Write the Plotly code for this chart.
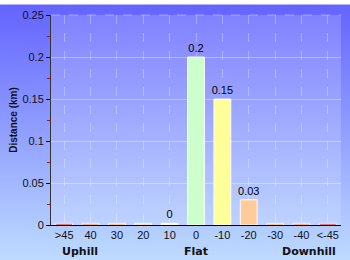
import plotly.graph_objects as go

categories = [">45", "40", "30", "20", "10", "0", "-10", "-20", "-30", "-40", "<-45"]
distance_km = [0.002, 0.002, 0.002, 0.002, 0.002, 0.2, 0.15, 0.03, 0.002, 0.002, 0.002]
bar_labels = ["", "", "", "", "0", "0.2", "0.15", "0.03", "", "", ""]
bar_colors = ["#e00000", "#ff6a1a", "#ff9a1a", "#ffc080", "#ffff99", "#ccffcc",
              "#ffff99", "#ffcc99", "#ff9a1a", "#ff6a1a", "#e00000"]
y_ticks = [0, 0.05, 0.1, 0.15, 0.2, 0.25]
y_tick_text = ["0", "0.05", "0.1", "0.15", "0.2", "0.25"]
section_labels = [("Uphill", 0.10), ("Flat", 0.5), ("Downhill", 0.89)]

fig = go.Figure()
fig.add_trace(go.Bar(
    x=categories, y=distance_km, text=bar_labels, textposition="outside",
    constraintext="none",
    textfont=dict(size=11, color="#000", family="Liberation Sans, Arial, sans-serif"),
    marker=dict(color=bar_colors, line=dict(color="rgba(255,255,255,0.9)", width=1)),
    cliponaxis=False, hoverinfo="skip",
))

# background gradient
shapes = []
n = 130
top = (100, 100, 255)
bot = (192, 222, 255)
h = 1.0 / n
for i in range(n):
    t = i / (n - 1)
    c = tuple(round(top[k] + (bot[k] - top[k]) * t) for k in range(3))
    shapes.append(dict(type="rect", xref="paper", yref="paper", layer="below",
                       x0=-0.3, x1=1.3,
                       y0=1.05 - (i + 1) * 1.25 * h - 0.004, y1=1.05 - i * 1.25 * h,
                       line=dict(width=0), fillcolor="rgb(%d,%d,%d)" % c))
shapes.append(dict(type="rect", xref="x domain", yref="y domain", layer="below",
                   x0=0, x1=1, y0=0, y1=1, line=dict(width=0),
                   fillcolor="rgba(255,255,255,0.17)"))
shapes.append(dict(type="line", xref="x domain", yref="y domain", layer="below",
                   x0=0, x1=1, y0=1, y1=1,
                   line=dict(color="rgba(255,255,255,0.35)", width=1, dash="dash")))

annotations = [dict(text="<b>%s</b>" % s, x=x, xref="paper", xanchor="center",
                    y=-0.085, yref="paper", yanchor="top", showarrow=False,
                    font=dict(size=11, color="#111", family="DejaVu Sans, Verdana, sans-serif"))
               for s, x in section_labels]

fig.update_layout(
    width=350, height=260,
    margin=dict(l=51, r=9, t=10, b=35),
    paper_bgcolor="rgba(0,0,0,0)", plot_bgcolor="rgba(0,0,0,0)",
    showlegend=False, bargap=0.36,
    shapes=shapes, annotations=annotations,
    font=dict(family="Liberation Sans, Arial, sans-serif", size=11, color="#111"),
    xaxis=dict(type="category", categoryorder="array", categoryarray=categories,
               range=[-0.5, len(categories) - 0.5],
               showgrid=True, gridcolor="rgba(255,255,255,0.3)", griddash="dash", gridwidth=1,
               showline=True, linecolor="#000", linewidth=1,
               ticks="", tickfont=dict(size=11), tickangle=0, fixedrange=True),
    yaxis=dict(range=[0, 0.25], tickvals=y_ticks, ticktext=y_tick_text,
               showline=True, linecolor="#333", linewidth=1,
               ticks="outside", ticklen=4, tickcolor="#000",
               minor=dict(dtick=0.025, ticks="outside", ticklen=3, tickcolor="#e00000", showgrid=False),
               showgrid=True, gridcolor="rgba(255,255,255,0.35)", gridwidth=1,
               zeroline=False, tickfont=dict(size=11),
               title=dict(text="<b>Distance (km)</b>", font=dict(size=10), standoff=2)),
)

fig.write_html("out.html")
